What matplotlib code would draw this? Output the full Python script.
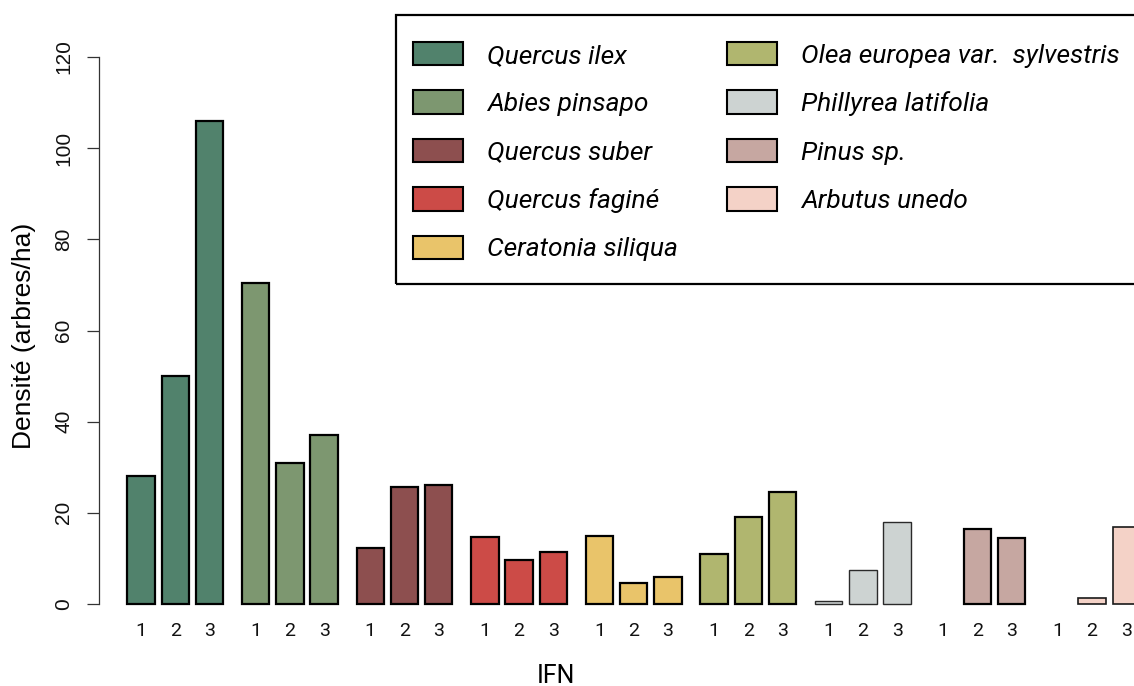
import matplotlib
matplotlib.use("Agg")
import matplotlib.pyplot as plt
from matplotlib.patches import Patch, Rectangle
import numpy as np

# ---------------- data ----------------
species = ["Quercus ilex", "Abies pinsapo", "Quercus suber", "Quercus faginé",
           "Ceratonia siliqua", "Olea europea var.  sylvestris",
           "Phillyrea latifolia", "Pinus sp.", "Arbutus unedo"]
ifn_labels = ["1", "2", "3"]
ifn1 = [28.0, 70.5, 12.2, 14.8, 15.0, 11.0, 0.6, np.nan, np.nan]
ifn2 = [50.0, 31.0, 25.7, 9.7, 4.5, 19.0, 7.4, 16.5, 1.3]
ifn3 = [106.0, 37.0, 26.2, 11.4, 5.9, 24.5, 17.9, 14.5, 16.8]
y_ticks = [0, 20, 40, 60, 80, 100, 120]

# ---------------- style ----------------
colors = ["#51826C", "#7D9770", "#8D4F4F", "#CC4B47", "#E9C46A",
          "#B0B66F", "#CDD3D2", "#C6A7A1", "#F4D2C7"]
edge_w = [1.6, 1.6, 1.6, 1.6, 1.6, 1.6, 1.0, 1.6, 1.2]
edge_c = ["black"] * 6 + ["#2a2a2a", "black", "#1a1a1a"]

W, H, DPI = 1134, 686, 100
fig = plt.figure(figsize=(W / DPI, H / DPI), dpi=DPI)

# axes geometry in pixels
ax_left, ax_right = 99, 1250
ax_bottom, ax_top = 604, 30
px_per_unit_y = (604 - 57) / 120.0
pitch_px = 34.2
ax = fig.add_axes([ax_left / W, (H - ax_bottom) / H,
                   (ax_right - ax_left) / W, (ax_bottom - ax_top) / H])
ax.set_xlim(0, (ax_right - ax_left) / pitch_px)
ax.set_ylim(0, (ax_bottom - ax_top) / px_per_unit_y)

bar_width = 0.80
group_step = 3.351
first_center = 1.23

series = [ifn1, ifn2, ifn3]
tick_pos, tick_lab = [], []
for g, sp in enumerate(species):
    for j, vals in enumerate(series):
        xc = first_center + g * group_step + j
        tick_pos.append(xc)
        tick_lab.append(ifn_labels[j])
        v = vals[g]
        if np.isnan(v):
            continue
        ax.bar(xc, v, width=bar_width, color=colors[g], edgecolor=edge_c[g],
               linewidth=edge_w[g], clip_on=False, zorder=3)

# axes styling
for s in ["top", "right", "bottom"]:
    ax.spines[s].set_visible(False)
ax.spines["left"].set_bounds(0, 120)
ax.spines["left"].set_color("#333333")
ax.spines["left"].set_linewidth(0.9)

ax.set_yticks(y_ticks)
ax.set_yticklabels([str(t) for t in y_ticks], rotation=90, va="center",
                   fontfamily="Liberation Sans", fontsize=15, color="#111111")
ax.tick_params(axis="y", length=8.6, width=0.9, color="#333333", pad=10)

ax.set_xticks(tick_pos)
ax.set_xticklabels(tick_lab, fontfamily="Roboto", fontsize=14, color="#111111")
ax.tick_params(axis="x", length=0, pad=13)

ax.set_ylabel("Densité (arbres/ha)", fontfamily="Liberation Sans", fontsize=19)
ax.yaxis.set_label_coords(24, H - 335.5, transform=matplotlib.transforms.IdentityTransform())
ax.yaxis.label.set_va("center")

ax.set_xlabel("IFN", fontfamily="Roboto", fontsize=18)
ax.xaxis.set_label_coords(556, H - 676, transform=matplotlib.transforms.IdentityTransform())
ax.xaxis.label.set_va("center")

# legend (frameless) + its box drawn separately
handles = [Patch(facecolor=c, edgecolor="black", linewidth=1.5) for c in colors]
leg = fig.legend(handles, species, loc="upper left",
                 bbox_to_anchor=(413 / W, 1 - 42 / H), bbox_transform=fig.transFigure,
                 ncol=2, frameon=False,
                 borderaxespad=0, borderpad=0, handlelength=1.89, handleheight=0.985,
                 handletextpad=0.91, labelspacing=0.86, columnspacing=1.86,
                 prop={"family": "Roboto", "style": "italic", "size": 19})
box = Rectangle((396 / W, (H - 284) / H), (1200 - 396) / W, 269 / H,
                transform=fig.transFigure, fill=False, edgecolor="black",
                linewidth=1.6, clip_on=False, zorder=5)
fig.add_artist(box)

fig.savefig("out.png", dpi=DPI)
